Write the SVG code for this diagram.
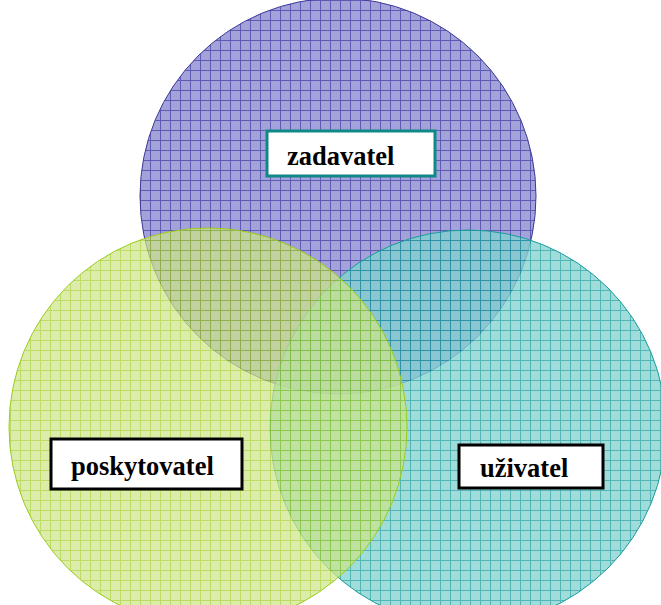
<svg xmlns="http://www.w3.org/2000/svg" width="661" height="605" viewBox="0 0 661 605">
<style>
.lbl{font-family:"Liberation Serif","Times New Roman",serif;font-weight:bold;font-size:26.5px;fill:#000}
.box{fill:#fff;stroke-width:3}
</style>
<defs>
<pattern id="pBlue" patternUnits="userSpaceOnUse" width="10" height="10">
<rect width="10" height="10" fill="#a3a2d9"/>
<path d="M0 0.5H10M0.5 0V10" stroke="#5e5bb5" stroke-width="1"/>
</pattern>
<pattern id="pGreen" patternUnits="userSpaceOnUse" width="10" height="10">
<rect width="10" height="10" fill="#cde48a"/>
<path d="M0 0.5H10M0.5 0V10" stroke="#a2cf2a" stroke-width="1"/>
</pattern>
<pattern id="pTeal" patternUnits="userSpaceOnUse" width="10" height="10">
<rect width="10" height="10" fill="#84d2cf"/>
<path d="M0 0.5H10M0.5 0V10" stroke="#22a2a2" stroke-width="1"/>
</pattern>
</defs>
<g id="zadavatel">
<circle cx="338" cy="196" r="198" fill="url(#pBlue)" stroke="#3e3a98" stroke-width="1"/>
</g>
<g id="uzivatel">
<circle cx="468" cy="428" r="198" fill="url(#pTeal)" fill-opacity="0.78" stroke="#1a9d9d" stroke-width="1"/>
</g>
<g id="poskytovatel">
<circle cx="208" cy="427" r="199" fill="url(#pGreen)" fill-opacity="0.72" stroke="#9ccc1c" stroke-width="1"/>
</g>
<g id="connectors"></g>
<g id="label-zadavatel">
<rect class="box" x="267" y="131" width="168" height="45" stroke="#108888"/>
<text class="lbl" x="287" y="165">zadavatel</text>
</g>
<g id="label-poskytovatel">
<rect class="box" x="51" y="439" width="191" height="50" stroke="#000"/>
<text class="lbl" x="71" y="475">poskytovatel</text>
</g>
<g id="label-uzivatel">
<rect class="box" x="459" y="445" width="144" height="43" stroke="#000"/>
<text class="lbl" x="480" y="477">uživatel</text>
</g>
</svg>
